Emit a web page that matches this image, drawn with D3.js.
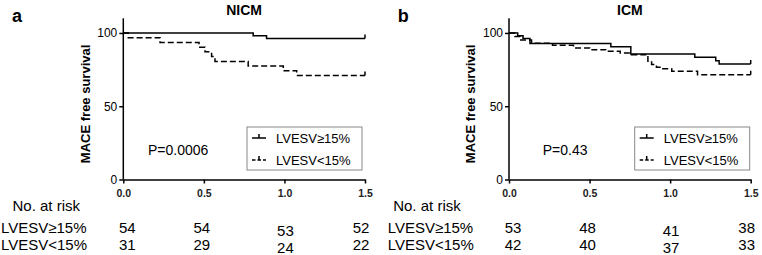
<!DOCTYPE html>
<html>
<head>
<meta charset="utf-8">
<script src="https://cdn.jsdelivr.net/npm/d3@7"></script>
<style>
  body { margin: 0; background: #fff; }
  svg { font-family: "Liberation Sans", Arial, sans-serif; }
</style>
</head>
<body>
<div id="chart"></div>
<script>
// Kaplan-Meier curves, MACE free survival (%) over time (years)
const timeTicks = [0, 0.5, 1.0, 1.5];
const survTicks = [0, 50, 100];
const groups = ["LVESV\u226515%", "LVESV<15%"];
const panelLetters = ["a", "b"];
const panelTitles = ["NICM", "ICM"];
const pValues = ["P=0.0006", "P=0.43"];

// [time, survival] step points
const nicmHigh = [[0, 100], [0.806, 98.1], [0.889, 96.3], [1.5, 96.3]];
const nicmLow = [[0, 100], [0.031, 96.8], [0.228, 93.5], [0.47, 90.3], [0.507, 87.1],
  [0.548, 83.9], [0.569, 80.6], [0.775, 77.4], [0.993, 74.2], [1.076, 71.0], [1.5, 71.0]];
const icmHigh = [[0, 100], [0.054, 98.1], [0.087, 96.2], [0.13, 92.8], [0.632, 90.6],
  [0.756, 85.7], [1.153, 83.4], [1.283, 81.0], [1.304, 78.8], [1.5, 78.8]];
const icmLow = [[0, 100], [0.037, 97.6], [0.068, 95.2], [0.14, 93.0], [0.27, 91.6],
  [0.40, 89.8], [0.50, 88.6], [0.60, 87.5], [0.69, 86.3], [0.76, 85.2], [0.862, 80.7],
  [0.885, 78.4], [0.915, 76.6], [0.955, 75.6], [1.01, 73.9], [1.17, 71.5], [1.5, 71.5]];

// numbers at risk at each time tick
const nicmRiskHigh = [54, 54, 53, 52];
const nicmRiskLow = [31, 29, 24, 22];
const icmRiskHigh = [53, 48, 41, 38];
const icmRiskLow = [42, 40, 37, 33];

const panels = [
  { curves: [nicmHigh, nicmLow], risk: [nicmRiskHigh, nicmRiskLow] },
  { curves: [icmHigh, icmLow], risk: [icmRiskHigh, icmRiskLow] }
];

const width = 762, height = 255;
const svg = d3.select("#chart").append("svg")
  .attr("width", width)
  .attr("height", height);

const dashes = [null, "6,3"];

panels.forEach((p, i) => {
  const ox = i * 385.7;
  const g = svg.append("g").attr("transform", `translate(${ox},0)`);

  const x = d3.scaleLinear().domain([0, 1.5]).range([123.3, 365]);
  const y = d3.scaleLinear().domain([0, 110]).range([179.5, 18.3]);

  // panel letter + title
  g.append("text").attr("x", 12).attr("y", 22)
    .attr("font-size", 18).attr("font-weight", "bold").text(panelLetters[i]);
  g.append("text").attr("x", (x(0) + x(1.5)) / 2).attr("y", 15)
    .attr("text-anchor", "middle").attr("font-size", 14).attr("font-weight", "bold")
    .text(panelTitles[i]);

  // y axis
  const yAxis = g.append("g").attr("transform", `translate(${x(0)},0)`)
    .call(d3.axisLeft(y).tickValues(survTicks).tickSize(4).tickPadding(2).tickSizeOuter(0));
  yAxis.select(".domain").attr("stroke-width", 1.5).attr("d", `M0,${y(0)}V${y(110)}`);
  yAxis.selectAll(".tick line").attr("stroke-width", 1.5);
  yAxis.selectAll("text").attr("font-size", 12).attr("font-family", "Liberation Sans, Arial")
    .attr("fill", "#000");

  g.append("text")
    .attr("transform", `translate(85,${(y(0) + y(110)) / 2 + 5}) rotate(-90)`)
    .attr("text-anchor", "middle").attr("dy", "0.35em")
    .attr("font-size", 13).attr("font-weight", "bold").text("MACE free survival");

  // x axis
  const xAxis = g.append("g").attr("transform", `translate(0,${y(0)})`)
    .call(d3.axisBottom(x).tickValues(timeTicks).tickFormat(d3.format(".1f"))
      .tickSize(4).tickPadding(6).tickSizeOuter(0));
  xAxis.select(".domain").attr("stroke-width", 1.5);
  xAxis.selectAll(".tick line").attr("stroke-width", 1.5);
  xAxis.selectAll("text").attr("font-size", 10.5).attr("font-weight", "bold")
    .attr("font-family", "Liberation Sans, Arial").attr("fill", "#222");

  // survival curves
  const line = d3.line().x(d => x(d[0])).y(d => y(d[1])).curve(d3.curveStepAfter);
  p.curves.forEach((c, k) => {
    g.append("path").datum(c).attr("d", line)
      .attr("fill", "none").attr("stroke", "#000").attr("stroke-width", 1.5)
      .attr("stroke-dasharray", dashes[k]);
    const last = c[c.length - 1];
    g.append("line")
      .attr("x1", x(last[0])).attr("x2", x(last[0]))
      .attr("y1", y(last[1])).attr("y2", y(last[1]) - 4)
      .attr("stroke", "#000").attr("stroke-width", 1.5);
  });

  // p value
  g.append("text").attr("x", i === 0 ? 148 : 157).attr("y", 155)
    .attr("font-size", 14).text(pValues[i]);

  // legend
  const lx = i === 0 ? 247 : 249;
  const lg = g.append("g").attr("transform", `translate(${lx},127)`);
  lg.append("rect").attr("width", 115).attr("height", 43)
    .attr("fill", "#fff").attr("stroke", "#888").attr("stroke-width", 1);
  groups.forEach((name, k) => {
    const ry = 11 + k * 22;
    lg.append("line").attr("x1", 5).attr("x2", 19).attr("y1", ry).attr("y2", ry)
      .attr("stroke", "#000").attr("stroke-width", 1.5)
      .attr("stroke-dasharray", k === 1 ? "3.5,2" : null);
    lg.append("line").attr("x1", 12).attr("x2", 12).attr("y1", ry).attr("y2", ry - 4)
      .attr("stroke", "#000").attr("stroke-width", 1.5);
    lg.append("text").attr("x", 29).attr("y", ry + 5).attr("font-size", 13).text(name);
  });

  // numbers at risk
  g.append("text").attr("x", i === 0 ? 12.5 : 7.5).attr("y", 211)
    .attr("font-size", 15).text("No. at risk");
  const rowY = [233, 250];
  const colDx = [4, -2, 1, -4];
  const colDy = [0, 0, 3, 0];
  groups.forEach((name, k) => {
    g.append("text").attr("x", i === 0 ? 1 : 2).attr("y", rowY[k])
      .attr("font-size", 15).text(name);
    p.risk[k].forEach((n, j) => {
      g.append("text").attr("x", x(timeTicks[j]) + colDx[j]).attr("y", rowY[k] + colDy[j])
        .attr("text-anchor", "middle").attr("font-size", 15).text(n);
    });
  });
});
</script>
</body>
</html>
